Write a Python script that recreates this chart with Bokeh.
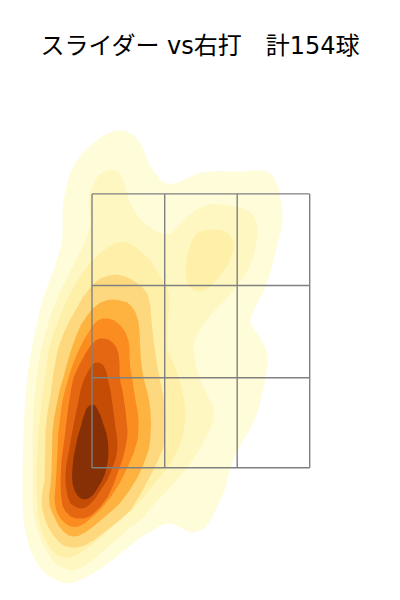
from bokeh.plotting import figure
from bokeh.models import Range1d
from bokeh.embed import file_html
from bokeh.resources import INLINE

title_text = "スライダー vs右打　計154球"

zone_x = [91.5, 164.2, 236.7, 309.2]
zone_y = [193.4, 285.0, 377.2, 467.2]

band_colors = ["#FFFCD9", "#FFF7C2", "#FEEFA9", "#FED87F", "#FEB340",
               "#FA8C20", "#E56712", "#C44C05", "#873005"]

level1 = [(120,130),(125,130.5),(130,133),(135,137),(140,143),(144,151),(147,160),(151,167),(155,173),(159,178),(163,182),(167,183),(172,183.5),(177,182),(183,180),(190,176),(197,173),(203,172),(210,171),(220,170.5),(230,171),(243,171),(252,170),(260,170),(265,171),(270,173),(274,178),(277,185),(279,191),(280,198),(281.5,207),(282,217),(281,229),(278,240),(275,252),(272,263),(269,275),(265,287),(262,294),(258,300),(255,307),(252,313),(250,318),(250,323),(253,328),(257,333),(260,338),(263,343),(265.5,349),(267,357),(267,365),(265,377),(263,387),(261,397),(258,408),(255,417),(251,426),(247,433),(242,441),(237,450),(233,459),(230,468),(227,478),(225,487),(222,495),(218,503),(214,512),(210,520),(205,527),(197,531),(190,532),(185,530),(180,527),(175,524.5),(170,523),(165,523.5),(160,525),(150,531),(140,537),(130,545),(120,553),(110,561),(100,568),(92,573),(83,578),(75,581.5),(67,583),(60,581.5),(53,578),(46,573.5),(40,568),(35,560),(30,550),(26,536),(23,520),(22,500),(22,470),(22.5,450),(23,433),(24,412),(25,393),(27,375),(30,355),(33,339),(36,325),(39,311),(43,297),(47,285),(53,270),(57,258),(60,247),(62,237),(62,222),(62,210),(63,200),(65,190),(67,181),(70,172),(75,162),(82,153),(90,145),(100,137),(105,134),(110,132),(115,130.5)]
level2 = [(110,169),(114,169.5),(118,172),(121,176),(123,180),(125,188),(128,198),(132,207),(137,215),(143,222),(150,227),(156,231),(163,233),(167,234),(170,233),(174,229),(178,225),(183,220),(188,215),(194,210.5),(200,207),(206,204.5),(212,203),(220,204),(227,205),(235,206),(243,208),(249,211),(253,215),(256,222),(257,230),(256.5,239),(255,247),(252,258),(247,270),(243,277),(237,285),(232,291),(227,297),(217,307),(208,317),(202,325),(197,333),(194,340),(193,347),(194,357),(196,368),(200,380),(204,389),(208,397),(212,405),(213,412),(212.5,420),(210,427),(206,436),(200,447),(192,460),(183,472),(175,481),(167,490),(158,499),(150,508),(143,517),(133,525),(123,533),(113,542),(103,550),(95,557),(87,563),(80,567.5),(73,570),(68,570),(63,568),(57,564.5),(52,560),(47,552),(42,543),(38,533),(35,523),(33,512),(32,500),(32,485),(32,470),(32,450),(32,430),(33,412),(34,395),(37,372),(40,350),(43,340),(47,325),(53,307),(59,292),(67,277),(74,262),(82,247),(87,235),(90,223),(89,213),(88,203),(89,194),(92,185),(95,179),(98,175),(104,170.5)]
level3 = [(122,241),(130,243.5),(137,248),(144,254),(150,260),(155,268),(160,277),(164,282),(167,287),(169,297),(168.5,310),(167,323),(167,335),(167,347),(169,355),(173,363),(177,373),(180,383),(183,396),(185,410),(184.5,420),(183,430),(181,440),(177,450),(172,459),(167,467),(159,477),(150,488),(143,497),(132,509),(120,518),(110,528),(100,537),(92,544),(83,550),(76,554.5),(70,557),(63,557),(57,555),(51,550),(47,543),(43,535),(40,527),(38,517),(37,507),(36,490),(36,470),(37,450),(38,430),(40,412),(42,395),(45,372),(48,350),(53,333),(58,320),(63,307),(69,294),(77,280),(84,270),(92,260),(99,253),(107,247),(114,243)]
level3b = [(210,229),(216,229),(222,230),(228,233.5),(232,238),(233.5,244),(233,250),(230,259),(225,268),(219,276),(213,283),(207,288),(200,291),(193,290),(188,285),(185.5,277),(185,267),(187,254),(190,243),(194,236),(198,232),(204,229.5)]
level4 = [(117,274),(125,276),(133,280),(141,286),(147,293),(150,306),(151,320),(152,330),(153,340),(155,354),(157,367),(160,382),(163,397),(164.5,408),(165,420),(164.5,434),(163,447),(157,461),(150,475),(141,492),(130,510),(120,519),(110,527),(101,534),(93,540),(85,544.5),(77,547),(70,547),(63,545),(58,541),(53,535),(48,527),(45,520),(42,510),(41,500),(42,490),(44,480),(44.5,455),(45,430),(47,412),(50,395),(53,372),(57,350),(63,333),(69,320),(75,310),(82,297),(90,287),(95,281.5),(100,278),(108,275)]
level5 = [(113,299),(120,300),(127,302),(132,307),(135,312),(138,321),(139,330),(139.5,342),(140,353),(141,365),(143,377),(145,385),(147,392),(149,402),(150,412),(150.5,423),(150,433),(149.5,442),(148,450),(143,464),(137,477),(129,490),(120,502),(114,508),(107,514),(100,520),(93,526),(86,531),(78,535.5),(73,536),(68,535),(63,531),(58,525),(55,519),(52,513),(49,505),(48.5,495),(50,485),(51,470),(51.5,450),(52,430),(54,415),(57,400),(59,390),(62,380),(66,365),(70,351),(75,337),(80,325),(86,316),(92,308),(100,302),(107,299.5)]
level6 = [(108,318),(114,320),(120,325),(125,332),(128,340),(129,348),(129,357),(130,369),(132,380),(133.5,390),(135,400),(137,410),(138,420),(138,430),(137,440),(133,453),(127,467),(119,483),(110,497),(100,509),(90,518),(84,523),(78,526),(74,526.5),(70,526),(65,523),(60,518),(57,513),(55,507),(54,498),(55,485),(56,470),(57,450),(58,430),(60,414),(62,400),(65,388),(68,377),(73,362),(78,350),(83,340),(88,332),(92,325),(97,320),(102,318)]
level7 = [(103,338),(108,339),(112,342),(116,347),(118,353),(119,363),(119,373),(120,382),(122,390),(125,410),(127,430),(126.5,439),(125,447),(122,459),(118,470),(113,484),(107,497),(100,506),(93,513),(88,516.5),(83,518),(76,518),(70,516),(65,511),(62,505),(60.5,495),(60,480),(61,460),(63,445),(65,430),(66.5,417),(68,405),(70,392),(73,377),(79,364),(85,353),(90,345),(95,340),(99,338)]
level8 = [(97,362),(100,362.5),(103,365),(105.5,370),(107,377),(108.5,384),(110,390),(112.5,408),(115,427),(116.5,437),(117,447),(115.5,457),(112,467),(107,479),(100,490),(94,499),(88,505),(84,507.5),(80,508),(75,506.5),(70,503),(67.5,497),(66,490),(65,481),(65,473),(66,463),(68,453),(70,441),(72,430),(75,415),(78,400),(80,390),(83,380),(87,372),(91,365),(94,362.5)]
level9 = [(92,404),(94,404.5),(96,407),(98,411),(100,415),(103,424),(106,433),(107.5,442),(108,450),(107.5,459),(106,468),(103.5,476),(100,483),(96,489.5),(92,495),(88,498),(83,499),(79.5,497.5),(77,495),(74,490),(72,483),(71.5,475),(72,467),(73,457),(75,447),(77,437),(80,427),(83,416),(86,408),(89,405)]

bands = [(level1, 0), (level2, 1), (level3, 2), (level3b, 2), (level4, 3),
         (level5, 4), (level6, 5), (level7, 6), (level8, 7), (level9, 8)]

p = figure(width=400, height=600, frame_width=400, frame_height=530,
           x_range=Range1d(0, 400), y_range=Range1d(600, 70),
           output_backend="svg", toolbar_location=None,
           min_border=0, min_border_top=70, title=title_text)
p.title.text_font = "DejaVu Sans, 'Noto Sans CJK JP'"
p.title.text_font_size = "24px"
p.title.text_font_style = "normal"
p.title.text_color = "#000000"
p.title.align = "center"
p.title.standoff = 22
p.axis.visible = False
p.grid.visible = False
p.outline_line_color = None
p.background_fill_color = "white"

for pts, c in bands:
    p.patch([q[0] for q in pts], [q[1] for q in pts],
            fill_color=band_colors[c], line_color=None)

p.segment(zone_x, [zone_y[0]] * 4, zone_x, [zone_y[-1]] * 4,
          line_color="#808080", line_width=1.4)
p.segment([zone_x[0]] * 4, zone_y, [zone_x[-1]] * 4, zone_y,
          line_color="#808080", line_width=1.4)

open("out.html", "w").write(file_html(p, INLINE))
